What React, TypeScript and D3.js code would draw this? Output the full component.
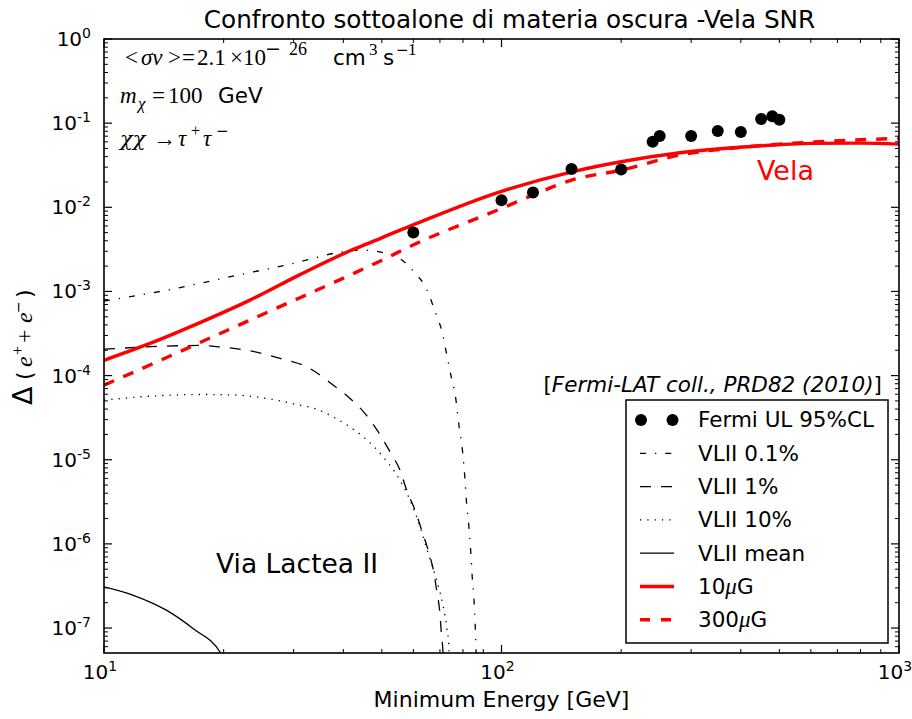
import React from "react";
import * as d3 from "d3";

// ---- Data ----
const fermiE = [60, 100, 120, 150, 200, 240, 250, 300, 350, 400, 450, 480, 500];
const fermiUL = [5.03e-3, 0.0121, 0.015, 0.0285, 0.0282, 0.06, 0.0703, 0.0703, 0.0805, 0.0784, 0.112, 0.121, 0.11];

const b10E = [10, 13.05, 17.44, 23.3, 31.12, 41.58, 49.45, 55.55, 59.9, 99.1, 150.5, 199.8, 281.2, 413.9, 607.6, 798, 1000];
const b10V = [1.52e-4, 2.41e-4, 4.26e-4, 7.88e-4, 1.585e-3, 3.04e-3, 4.25e-3, 5.36e-3, 6.18e-3, 0.01528, 0.02642, 0.03475, 0.04446, 0.05236, 0.05754, 0.05794, 0.05636];

const b300E = [10, 13.05, 17.44, 23.3, 31.12, 41.58, 49.45, 59.9, 100, 120, 150, 200, 281.2, 413.9, 607.6, 1000];
const b300V = [7.69e-5, 1.336e-4, 2.47e-4, 4.57e-4, 8.43e-4, 1.563e-3, 2.29e-3, 3.56e-3, 9.7e-3, 0.01396, 0.02104, 0.02767, 0.04178, 0.05236, 0.05957, 0.06592];

const vl01E = [10, 14.38, 21.11, 31.12, 38.5, 44.5, 47.5, 51.2, 54.5, 57.9, 60.9, 63.8, 65.8, 67.4, 69.1, 70.7, 72.8, 74.9, 76.4, 78.3, 79.9, 80.9, 81.7, 82.8, 83.7, 84.4, 85.3, 85.9, 86.3, 86.5];
const vl01V = [7.7e-4, 1.035e-3, 1.52e-3, 2.25e-3, 2.88e-3, 3.1e-3, 3.04e-3, 2.83e-3, 2.58e-3, 2.09e-3, 1.61e-3, 1.22e-3, 9.04e-4, 6.56e-4, 4.78e-4, 3.47e-4, 1.79e-4, 9.2e-5, 6.1e-5, 2.4e-5, 1.19e-5, 5.97e-6, 3.01e-6, 1.59e-6, 8.0e-7, 4.05e-7, 2.13e-7, 1.03e-7, 5.4e-8, 4.0e-8];

const vl1E = [10, 17.44, 19.58, 23.3, 27.72, 32.35, 34.29, 37.76, 41.58, 45.36, 48.98, 52.44, 55.55, 57.74, 60.6, 63.0, 65.4, 67.4, 68.7, 70.0, 70.7, 71.2, 71.4];
const vl1V = [2.06e-4, 2.28e-4, 2.19e-4, 1.97e-4, 1.6e-4, 1.27e-4, 1.08e-4, 7.69e-5, 5.35e-5, 3.54e-5, 2.14e-5, 1.24e-5, 7.5e-6, 4.34e-6, 2.51e-6, 1.45e-6, 8.39e-7, 4.85e-7, 2.81e-7, 1.48e-7, 7.8e-8, 5.43e-8, 3.9e-8];

const vl10E = [10, 13.05, 17.44, 21.15, 25.66, 31.12, 34.29, 37.68, 41.58, 44.9, 50.4, 55.55, 58.9, 62.4, 65.4, 68.7, 71.4, 72.8, 73.8, 74.0];
const vl10V = [5.1e-5, 5.69e-5, 5.96e-5, 5.89e-5, 5.35e-5, 4.45e-5, 3.98e-5, 3.23e-5, 2.45e-5, 1.87e-5, 1.08e-5, 5.7e-6, 3.3e-6, 1.59e-6, 7.67e-7, 3.69e-7, 1.78e-7, 1.03e-7, 5.43e-8, 3.9e-8];

const vlMeanE = [10, 11.85, 14.38, 16.78, 19.66, 20.27];
const vlMeanV = [3.08e-7, 2.45e-7, 1.62e-7, 9.8e-8, 5.05e-8, 3.9e-8];

const xTickExps = [1, 2, 3];
const yTickExps = [0, -1, -2, -3, -4, -5, -6, -7];

const legendLabels = ["Fermi UL 95%CL", "VLII 0.1%", "VLII 1%", "VLII 10%", "VLII mean", "10μG", "300μG"];

// ---- Layout ----
const W = 912, H = 719;
const L = 104, R = 899, T = 39, B = 653;
const SANS = "DejaVu Sans, sans-serif";
const SERIF = "Liberation Serif, DejaVu Serif, serif";
const DSERIF = "DejaVu Serif, serif";

export default function App() {
  const x = d3.scaleLog().domain([10, 1000]).range([L, R]);
  const y = d3.scaleLog().domain([5.05e-8, 1]).range([B, T]);

  const mk = (E: number[], V: number[]) =>
    d3.line<number>().x((_, i) => x(E[i])).y((_, i) => y(V[i])).curve(d3.curveMonotoneX)(E.map((e) => e)) || "";

  const xMinor: number[] = [];
  for (let e = 1; e < 3; e++) for (let k = 2; k <= 9; k++) xMinor.push(k * Math.pow(10, e));
  const yMinor: number[] = [];
  for (let e = -8; e < 0; e++) for (let k = 2; k <= 9; k++) {
    const v = k * Math.pow(10, e);
    if (v >= 5.05e-8 && v <= 1) yMinor.push(v);
  }

  const lgX = 626, lgY = 400, lgW = 262, lgH = 243;
  const rowY = (i: number) => 420 + i * 33.3;
  const hx0 = 640, hx1 = 674;

  const styles: [string, number, string | undefined][] = [
    ["", 0, undefined],
    ["#000", 1.3, "6,9,1.3,9"],
    ["#000", 1.3, "11,10"],
    ["#000", 1.3, "1.3,6"],
    ["#000", 1.3, undefined],
    ["#ff0000", 3.4, undefined],
    ["#ff0000", 3.4, "10,11"],
  ];

  return (
    <svg width={W} height={H} style={{ display: "block", position: "absolute", left: 0, top: 0, background: "#fff" }}>
      <defs>
        <clipPath id="plotClip">
          <rect x={L} y={T} width={R - L} height={B - T} />
        </clipPath>
      </defs>
      <rect x={0} y={0} width={W} height={H} fill="#fff" />

      {/* title */}
      <text x={(L + R) / 2 + 8} y={28} textAnchor="middle" fontFamily={SANS} fontSize={24.7}>
        Confronto sottoalone di materia oscura -Vela SNR
      </text>

      {/* curves */}
      <g clipPath="url(#plotClip)" fill="none">
        <path d={mk(vlMeanE, vlMeanV)} stroke="#000" strokeWidth={1.3} />
        <path d={mk(vl10E, vl10V)} stroke="#000" strokeWidth={1.3} strokeDasharray="1.3,6" />
        <path d={mk(vl1E, vl1V)} stroke="#000" strokeWidth={1.3} strokeDasharray="11,10" />
        <path d={mk(vl01E, vl01V)} stroke="#000" strokeWidth={1.3} strokeDasharray="6,9,1.3,9" />
        <path d={mk(b10E, b10V)} stroke="#ff0000" strokeWidth={3.4} />
        <path d={mk(b300E, b300V)} stroke="#ff0000" strokeWidth={3.4} strokeDasharray="11,10" />
        {fermiE.map((e, i) => (
          <circle key={i} cx={x(e)} cy={y(fermiUL[i])} r={6} fill="#000" />
        ))}
      </g>

      {/* axes frame */}
      <rect x={L} y={T} width={R - L} height={B - T} fill="none" stroke="#000" strokeWidth={1.6} />

      {/* x ticks */}
      {xTickExps.map((e) => {
        const px = x(Math.pow(10, e));
        return (
          <g key={"xt" + e}>
            <line x1={px} x2={px} y1={B} y2={B - 8} stroke="#000" strokeWidth={1.2} />
            <line x1={px} x2={px} y1={T} y2={T + 8} stroke="#000" strokeWidth={1.2} />
            <text x={px - 4} y={679} textAnchor="middle" fontFamily={SANS} fontSize={20}>
              10<tspan dy={-8} fontSize={14}>{e}</tspan>
            </text>
          </g>
        );
      })}
      {xMinor.map((v, i) => {
        const px = x(v);
        return (
          <g key={"xm" + i}>
            <line x1={px} x2={px} y1={B} y2={B - 4} stroke="#000" strokeWidth={1} />
            <line x1={px} x2={px} y1={T} y2={T + 4} stroke="#000" strokeWidth={1} />
          </g>
        );
      })}

      {/* y ticks */}
      {yTickExps.map((e) => {
        const py = y(Math.pow(10, e));
        return (
          <g key={"yt" + e}>
            <line x1={L} x2={L + 8} y1={py} y2={py} stroke="#000" strokeWidth={1.2} />
            <line x1={R} x2={R - 8} y1={py} y2={py} stroke="#000" strokeWidth={1.2} />
            <text x={91} y={py + 7} textAnchor="end" fontFamily={SANS} fontSize={20}>
              10<tspan dy={-8} fontSize={14}>{e === 0 ? "0" : "-" + Math.abs(e)}</tspan>
            </text>
          </g>
        );
      })}
      {yMinor.map((v, i) => {
        const py = y(v);
        return (
          <g key={"ym" + i}>
            <line x1={L} x2={L + 4} y1={py} y2={py} stroke="#000" strokeWidth={1} />
            <line x1={R} x2={R - 4} y1={py} y2={py} stroke="#000" strokeWidth={1} />
          </g>
        );
      })}

      {/* axis labels */}
      <text x={(L + R) / 2} y={707} textAnchor="middle" fontFamily={SANS} fontSize={22}>
        Minimum Energy [GeV]
      </text>
      <g transform="translate(32,405) rotate(-90)">
        <text x={0} y={0} fontFamily={SANS} fontSize={27}>Δ</text>
        <text x={25} y={0} fontFamily={SANS} fontSize={22}>(</text>
        <text x={38} y={0} fontFamily={SERIF} fontStyle="italic" fontSize={24}>e</text>
        <text x={50} y={-9} fontFamily={SERIF} fontSize={16}>+</text>
        <text x={62} y={0} fontFamily={SERIF} fontSize={24}>+</text>
        <text x={82} y={0} fontFamily={SERIF} fontStyle="italic" fontSize={24}>e</text>
        <text x={92} y={-9} fontFamily={SANS} fontSize={14}>−</text>
        <text x={107} y={0} fontFamily={SANS} fontSize={22}>)</text>
      </g>

      {/* annotations */}
      <g fontSize={23}>
        <text x={125} y={65} fontFamily={SERIF}>&lt;</text>
        <text x={141} y={65} fontFamily={SERIF} fontStyle="italic">σv</text>
        <text x={168} y={65} fontFamily={SERIF}>&gt;</text>
        <text x={182} y={65} fontFamily={SERIF}>=</text>
        <text x={197} y={65} fontFamily={SERIF}>2.1</text>
        <text x={230} y={65} fontFamily={SERIF}>×</text>
        <text x={243} y={65} fontFamily={SERIF}>10</text>
        <text x={265} y={55} fontFamily={SANS} fontSize={19}>−</text>
        <text x={289} y={55} fontFamily={SERIF} fontSize={18}>26</text>
        <text x={333} y={65} fontFamily={SANS} fontSize={21.5}>cm</text>
        <text x={369} y={55} fontFamily={SERIF} fontSize={17}>3</text>
        <text x={383} y={65} fontFamily={SANS} fontSize={21.5}>s</text>
        <text x={396} y={55} fontFamily={SANS} fontSize={15}>−</text>
        <text x={408} y={55} fontFamily={SERIF} fontSize={17}>1</text>

        <text x={120} y={103} fontFamily={SERIF} fontStyle="italic">m</text>
        <text x={138} y={109} fontFamily={SERIF} fontStyle="italic" fontSize={17}>χ</text>
        <text x={152} y={103} fontFamily={SERIF}>=</text>
        <text x={168} y={103} fontFamily={SERIF}>100</text>
        <text x={218} y={103} fontFamily={SANS} fontSize={21.5}>GeV</text>

        <text x={120} y={146} fontFamily={DSERIF} fontStyle="italic" fontSize={21}>χχ</text>
        <text x={153} y={146} fontFamily={SERIF}>→</text>
        <text x={178} y={146} fontFamily={SERIF} fontStyle="italic">τ</text>
        <text x={191} y={136} fontFamily={SERIF} fontSize={16}>+</text>
        <text x={203} y={146} fontFamily={SERIF} fontStyle="italic">τ</text>
        <text x={216} y={136} fontFamily={SANS} fontSize={15}>−</text>
      </g>

      <text x={757} y={180} fontFamily={SANS} fontSize={27} fill="#ff0000">Vela</text>
      <text x={216} y={573} fontFamily={SANS} fontSize={26.5}>Via Lactea II</text>

      <text x={882} y={392} textAnchor="end" fontFamily={SANS} fontSize={21.5}>
        [<tspan fontStyle="italic">Fermi-LAT coll., PRD82 (2010)</tspan>]
      </text>

      {/* legend */}
      <rect x={lgX} y={lgY} width={lgW} height={lgH} fill="#fff" stroke="#000" strokeWidth={1.5} />
      {legendLabels.map((lab, i) => {
        const cy = rowY(i);
        let handle: React.ReactNode = null;
        if (i === 0) {
          handle = (
            <g>
              <circle cx={hx0 + 1} cy={cy} r={6} fill="#000" />
              <circle cx={hx1 - 1.5} cy={cy} r={6} fill="#000" />
            </g>
          );
        } else {
          const [c, w, da] = styles[i];
          handle = <line x1={hx0} x2={hx1} y1={cy} y2={cy} stroke={c} strokeWidth={w} strokeDasharray={da} />;
        }
        const mu = lab.indexOf("μ");
        return (
          <g key={"lg" + i}>
            {handle}
            <text x={698} y={cy + 7.3} fontFamily={SANS} fontSize={21.5}>
              {mu >= 0 ? (
                <>
                  {lab.slice(0, mu)}
                  <tspan fontFamily={SERIF} fontStyle="italic" fontSize={23}>μ</tspan>
                  {lab.slice(mu + 1)}
                </>
              ) : (
                lab
              )}
            </text>
          </g>
        );
      })}
    </svg>
  );
}
